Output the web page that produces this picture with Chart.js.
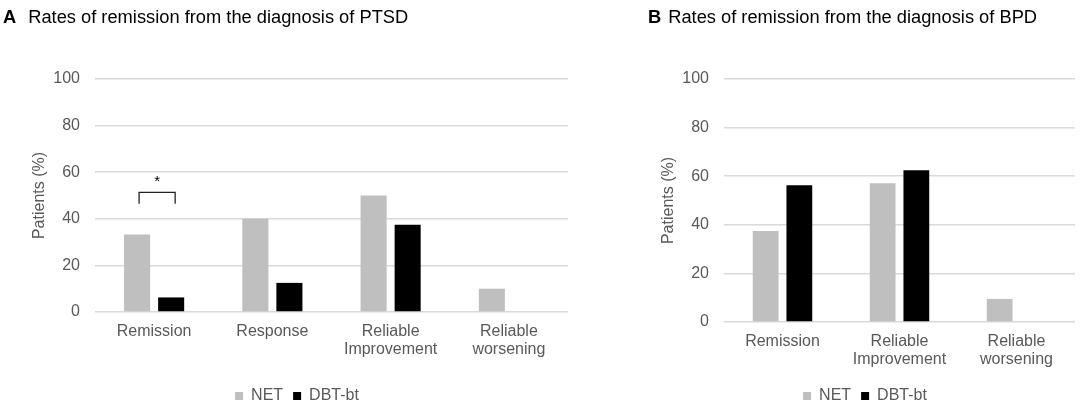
<!DOCTYPE html>
<html>
<head>
<meta charset="utf-8">
<script src="https://cdn.jsdelivr.net/npm/chart.js@4.4.1/dist/chart.umd.min.js"></script>
<style>
  body { margin: 0; background: #fff; font-family: "Liberation Sans", Arial, sans-serif; }
  #wrap { position: relative; width: 1084px; height: 410px; overflow: hidden; }
  .panel { position: absolute; top: 0; height: 410px; }
  .title { position: absolute; top: 6px; font-size: 18.3px; color: #000; white-space: nowrap; }
</style>
</head>
<body>
<div id="wrap">
  <div class="panel" style="left:0;width:600px"><canvas id="chartA"></canvas></div>
  <div class="panel" style="left:652px;width:432px"><canvas id="chartB"></canvas></div>
  <div class="title" style="left:3px"><b style="margin-right:12px">A</b>Rates of remission from the diagnosis of PTSD</div>
  <div class="title" style="left:648px"><b style="margin-right:7px">B</b>Rates of remission from the diagnosis of BPD</div>
</div>
<script>
const seriesNames = ['NET', 'DBT-bt'];
const seriesColors = ['#bfbfbf', '#000000'];
const yTicks = [0, 20, 40, 60, 80, 100];

const ptsdCategories = [['Remission'], ['Response'], ['Reliable', 'Improvement'], ['Reliable', 'worsening']];
const ptsdNet = [33.3, 40, 50, 10];
const ptsdDbt = [6.25, 12.5, 37.5, 0];

const bpdCategories = [['Remission'], ['Reliable', 'Improvement'], ['Reliable', 'worsening']];
const bpdNet = [37.5, 57.1, 9.5];
const bpdDbt = [56.25, 62.5, 0];

// significance bracket on PTSD remission (values in %)
const sigCategory = 0;
const sigTop = 51.3;
const sigLegs = 46.5;
const sigStar = 57;

const tickColor = '#595959';
const gridColor = '#d9d9d9';
const fontFamily = '"Liberation Sans", Arial, sans-serif';

const bracketPlugin = {
  id: 'bracket',
  afterDatasetsDraw(chart) {
    const a = chart.getDatasetMeta(0).data[sigCategory];
    const b = chart.getDatasetMeta(1).data[sigCategory];
    const y = chart.scales.y;
    const ctx = chart.ctx;
    const x1 = a.x + 2, x2 = b.x + 4;
    ctx.save();
    ctx.strokeStyle = '#222';
    ctx.lineWidth = 1.3;
    ctx.beginPath();
    ctx.moveTo(x1, y.getPixelForValue(sigLegs));
    ctx.lineTo(x1, y.getPixelForValue(sigTop));
    ctx.lineTo(x2, y.getPixelForValue(sigTop));
    ctx.lineTo(x2, y.getPixelForValue(sigLegs));
    ctx.stroke();
    ctx.fillStyle = '#000';
    ctx.font = '15px ' + fontFamily;
    ctx.textAlign = 'center';
    ctx.textBaseline = 'middle';
    ctx.fillText('*', (x1 + x2) / 2, y.getPixelForValue(sigStar) + 3);
    ctx.restore();
  }
};

function makeChart(canvasId, labels, netVals, dbtVals, pad, xHeight, plugins) {
  const font = { family: fontFamily, size: 16 };
  return new Chart(document.getElementById(canvasId), {
    type: 'bar',
    data: {
      labels: labels,
      datasets: [
        { label: seriesNames[0], data: netVals, backgroundColor: seriesColors[0] },
        { label: seriesNames[1], data: dbtVals, backgroundColor: seriesColors[1] },
      ],
    },
    options: {
      responsive: true,
      maintainAspectRatio: false,
      animation: false,
      devicePixelRatio: 1,
      categoryPercentage: 0.576,
      barPercentage: 0.765,
      layout: { padding: pad },
      plugins: {
        legend: {
          position: 'bottom',
          labels: { boxWidth: 8, boxHeight: 8, color: tickColor, font: font, padding: 10 },
        },
        tooltip: { enabled: false },
      },
      scales: {
        x: {
          grid: { display: false, drawTicks: false },
          border: { display: false },
          ticks: { color: tickColor, font: { ...font, lineHeight: 1.15 }, padding: 10, maxRotation: 0, autoSkip: false },
          afterFit: (scale) => { scale.height = xHeight; },
        },
        y: {
          min: 0,
          max: 100,
          afterBuildTicks: (scale) => { scale.ticks = yTicks.map((v) => ({ value: v })); },
          grid: { color: gridColor, lineWidth: 1.5, drawTicks: false },
          border: { display: false },
          ticks: { color: tickColor, font: font, padding: 15 },
          title: { display: true, text: 'Patients (%)', color: tickColor, font: font },
          afterFit: (scale) => { scale.width = 69; },
        },
      },
    },
    plugins: plugins,
  });
}

makeChart('chartA', ptsdCategories, ptsdNet, ptsdDbt, { top: 79, left: 26, right: 32, bottom: -4 }, 66, [bracketPlugin]);
makeChart('chartB', bpdCategories, bpdNet, bpdDbt, { top: 79, left: 3, right: 9, bottom: -4 }, 56, []);
</script>
</body>
</html>
